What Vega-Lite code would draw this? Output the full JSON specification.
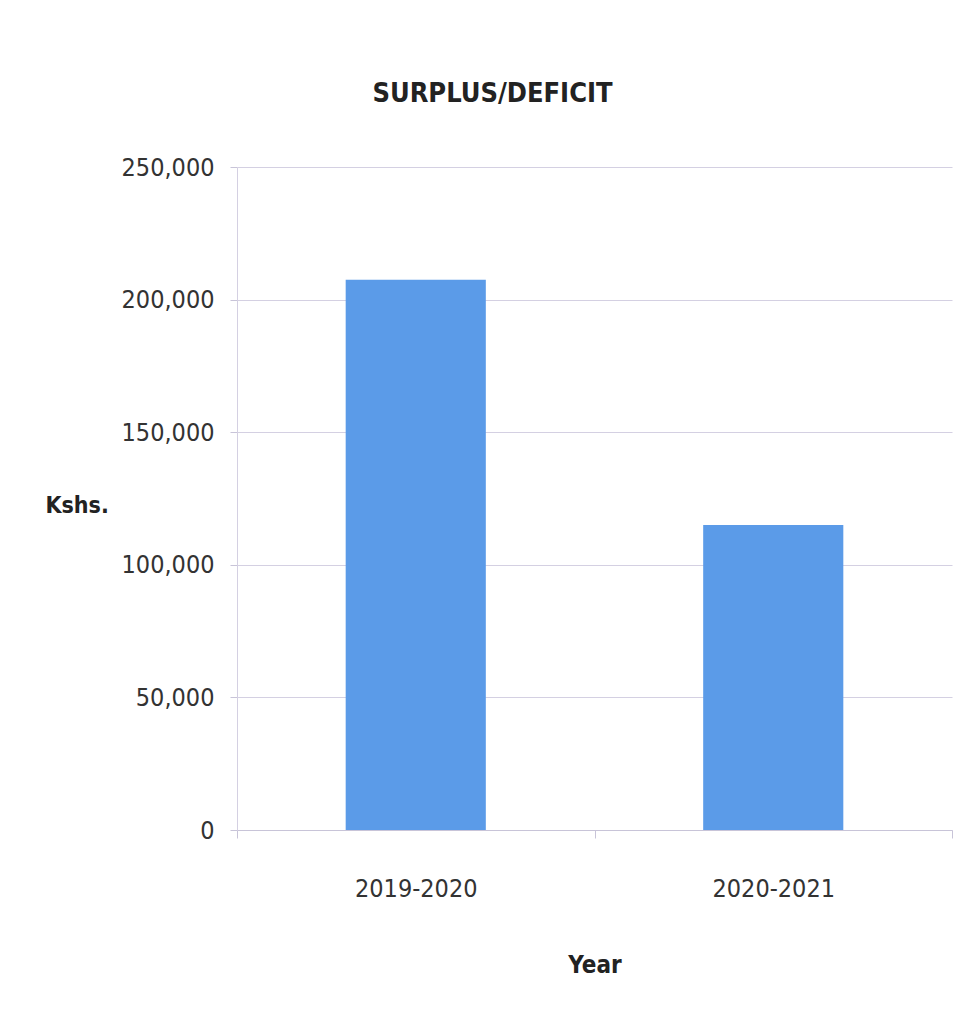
{
  "$schema": "https://vega.github.io/schema/vega-lite/v6.json",
  "autosize": "none",
  "width": 715,
  "height": 663,
  "padding": {"left": 237, "top": 167, "right": 20, "bottom": 194},
  "background": "white",
  "config": {
    "view": {"stroke": null},
    "font": "DejaVu Sans Condensed, sans-serif"
  },
  "title": {
    "text": "SURPLUS/DEFICIT",
    "fontSize": 27,
    "fontWeight": "bold",
    "color": "#222222",
    "font": "DejaVu Sans Condensed, sans-serif",
    "anchor": "middle",
    "dx": -102,
    "offset": 47
  },
  "data": {
    "values": [
      {"Year": "2019-2020", "Kshs": 207500},
      {"Year": "2020-2021", "Kshs": 115000}
    ]
  },
  "mark": {"type": "bar", "color": "#5b9be8", "width": {"band": 0.392}},
  "encoding": {
    "x": {
      "field": "Year",
      "type": "nominal",
      "sort": null,
      "scale": {"paddingInner": 0, "paddingOuter": 0},
      "axis": {
        "title": "Year",
        "titleFontSize": 24,
        "titleFontWeight": "bold",
        "titleColor": "#222222",
        "titlePadding": 52,
        "labelAngle": 0,
        "labelFontSize": 25,
        "labelColor": "#333333",
        "labelPadding": 38,
        "tickBand": "extent",
        "tickSize": 8,
        "tickColor": "#c8c4d8",
        "domainColor": "#c8c4d8",
        "grid": false
      }
    },
    "y": {
      "field": "Kshs",
      "type": "quantitative",
      "scale": {"domain": [0, 250000], "nice": false},
      "axis": {
        "title": "Kshs.",
        "titleAngle": 0,
        "titleAlign": "left",
        "titleBaseline": "middle",
        "titleX": -192,
        "titleY": 338,
        "titleFontSize": 23,
        "titleFontWeight": "bold",
        "titleColor": "#222222",
        "values": [0, 50000, 100000, 150000, 200000, 250000],
        "format": ",d",
        "labelFontSize": 25,
        "labelColor": "#333333",
        "labelPadding": 16,
        "tickSize": 7,
        "tickColor": "#c8c4d8",
        "domainColor": "#d4d0e2",
        "gridColor": "#d4d0e2",
        "grid": true
      }
    }
  }
}
